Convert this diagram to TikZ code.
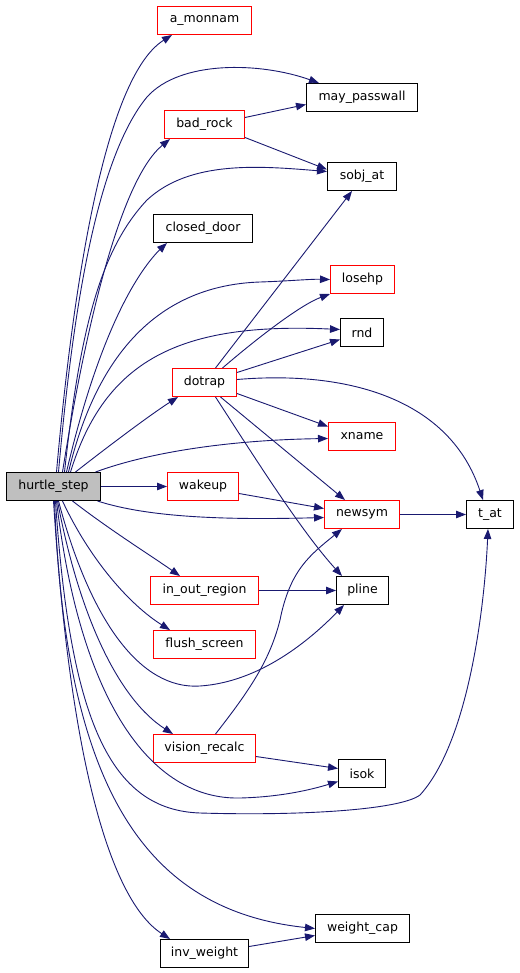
\documentclass[tikz,border=0pt]{standalone}
\usepackage{fontspec}
\setmainfont{DejaVu Sans}
\usetikzlibrary{arrows.meta,calc}
\definecolor{edgeblue}{HTML}{191970}
\definecolor{hsgray}{HTML}{BFBFBF}
\definecolor{boxred}{RGB}{255,0,0}
\tikzset{
  fnbase/.style={line width=1bp, fill=white, minimum height=28bp, inner sep=0pt,
    font=\fontsize{12.5bp}{15bp}\selectfont, text=black},
  fn/.style={fnbase, draw=black},
  rfn/.style={fnbase, draw=boxred},
  edge/.style={draw=edgeblue, line width=0.9bp, -{Triangle[length=10bp,width=7.5bp]}},
}
\begin{document}
\begin{tikzpicture}[x=1bp,y=-1bp]
\path[use as bounding box] (0,0) rectangle (520,973);
% nodes
\node[fn, fill=hsgray, minimum width=94bp] (hs) at (53.5,486.5) {hurtle\_step};
\node[rfn, minimum width=94bp] (am) at (204.5,20.5) {a\_monnam};
\node[fn, minimum width=111bp] (mp) at (362,97.5) {may\_passwall};
\node[rfn, minimum width=80bp] (br) at (204.5,124.5) {bad\_rock};
\node[fn, minimum width=69bp] (so) at (362,176.5) {sobj\_at};
\node[fn, minimum width=99bp] (cd) at (203,228.5) {closed\_door};
\node[rfn, minimum width=64bp] (lh) at (362.5,279.5) {losehp};
\node[fn, minimum width=43bp] (rnd) at (362,332.5) {rnd};
\node[rfn, minimum width=64bp] (dt) at (204.5,382.5) {dotrap};
\node[rfn, minimum width=67bp] (xn) at (362,436.5) {xname};
\node[rfn, minimum width=71bp] (wk) at (203,486.5) {wakeup};
\node[rfn, minimum width=75bp] (ns) at (362,514.5) {newsym};
\node[fn, minimum width=47bp] (ta) at (490,514.5) {t\_at};
\node[rfn, minimum width=108bp] (io) at (204.5,590.5) {in\_out\_region};
\node[fn, minimum width=52bp] (pl) at (362.5,590.5) {pline};
\node[rfn, minimum width=102bp] (fs) at (204.5,644.5) {flush\_screen};
\node[fnbase, draw=red, minimum width=102bp] (vr) at (204.5,748.5) {vision\_recalc};
\node[fn, minimum width=47bp] (ik) at (362,773.5) {isok};
\node[fn, minimum width=94bp] (wc) at (362.5,928.5) {weight\_cap};
\node[fn, minimum width=88bp] (iw) at (204.5,953.5) {inv\_weight};
% edges from hurtle_step (top)
\draw[edge] ($(hs.north)+(3,0)$) .. controls (70,320) and (100,80) .. ($(am.south west)+(15,0)$);
\draw[edge] ($(hs.north)+(5,0)$) .. controls (72,320) and (95,160) .. (147,97) .. controls (180,60) and (260,62) .. ($(mp.north west)+(13,0)$);
\draw[edge] ($(hs.north)+(9,0)$) .. controls (85,330) and (120,180) .. ($(br.south west)+(6,0)$);
\draw[edge] ($(hs.north)+(11,0)$) .. controls (80,330) and (100,250) .. (147,200) .. controls (190,160) and (260,166) .. ($(so.west)+(0,-5)$);
\draw[edge] ($(hs.north)+(13,0)$) .. controls (95,350) and (130,280) .. ($(cd.south west)+(14,0)$);
\draw[edge] ($(hs.north)+(15,0)$) .. controls (100,340) and (170,285) .. (260,282) .. controls (290,281) and (310,279) .. (lh.west);
\draw[edge] ($(hs.north)+(17,0)$) .. controls (105,360) and (180,322) .. ($(rnd.west)+(0,-3)$);
\draw[edge] ($(hs.north)+(22,0)$) .. controls (110,445) and (150,415) .. ($(dt.south west)+(6,0)$);
\draw[edge] ($(hs.north)+(42,0)$) .. controls (150,452) and (230,440) .. ($(xn.west)+(0,2)$);
% edges from hurtle_step (side/bottom)
\draw[edge] (hs.east) -- (wk.west);
\draw[edge] ($(hs.south)+(44,0)$) .. controls (150,518) and (230,520) .. ($(ns.west)+(0,3)$);
\draw[edge] ($(hs.south)+(19,0)$) .. controls (110,530) and (150,555) .. ($(io.north west)+(30,0)$);
\draw[edge] ($(hs.south)+(9,0)$) .. controls (90,560) and (130,605) .. ($(fs.north west)+(17,0)$);
\draw[edge] ($(hs.south)+(5,0)$) .. controls (90,620) and (140,690) .. (200,686) .. controls (260,682) and (310,640) .. ($(pl.south west)+(8,0)$);
\draw[edge] ($(hs.south)+(4,0)$) .. controls (80,620) and (120,700) .. ($(vr.north west)+(20,0)$);
\draw[edge] ($(hs.south)+(3,0)$) .. controls (80,700) and (150,800) .. (240,798) .. controls (280,797) and (310,790) .. ($(ik.west)+(0,8)$);
\draw[edge] ($(hs.south)+(2,0)$) .. controls (70,720) and (110,810) .. (200,813) .. controls (300,816) and (400,810) .. (420,795) .. controls (470,740) and (485,600) .. ($(ta.south)+(-2,0)$);
\draw[edge] ($(hs.south)+(1,0)$) .. controls (65,780) and (140,910) .. (wc.west);
\draw[edge] (hs.south) .. controls (70,760) and (110,900) .. ($(iw.north west)+(10,0)$);
% other edges
\draw[edge] ($(br.east)+(0,-7)$) -- ($(mp.west)+(0,7)$);
\draw[edge] ($(br.east)+(0,13)$) -- ($(so.west)+(0,-7)$);
\draw[edge] ($(dt.north)+(11,0)$) -- ($(so.south)+(-10,0)$);
\draw[edge] ($(dt.north)+(18,0)$) .. controls (255,340) and (300,305) .. (lh.south west);
\draw[edge] ($(dt.east)+(0,-10)$) -- ($(rnd.west)+(0,7)$);
\draw[edge] ($(dt.east)+(0,-3)$) .. controls (350,370) and (450,400) .. ($(ta.north)+(-7,0)$);
\draw[edge] ($(dt.east)+(0,11)$) -- ($(xn.west)+(0,-10)$);
\draw[edge] ($(dt.south)+(16,0)$) -- ($(ns.north)+(-17,0)$);
\draw[edge] ($(dt.south)+(11,0)$) .. controls (250,450) and (300,530) .. ($(pl.north west)+(6,0)$);
\draw[edge] ($(wk.east)+(0,7)$) -- ($(ns.west)+(0,-6)$);
\draw[edge] (ns.east) -- (ta.west);
\draw[edge] (io.east) -- (pl.west);
\draw[edge] ($(vr.north)+(11,0)$) .. controls (250,690) and (270,660) .. (280,620) .. controls (290,570) and (310,555) .. ($(ns.south)+(-20,0)$);
\draw[edge] ($(vr.east)+(0,8)$) -- ($(ik.west)+(0,-5)$);
\draw[edge] ($(iw.east)+(0,-7)$) -- ($(wc.west)+(0,7)$);
\end{tikzpicture}
\end{document}
